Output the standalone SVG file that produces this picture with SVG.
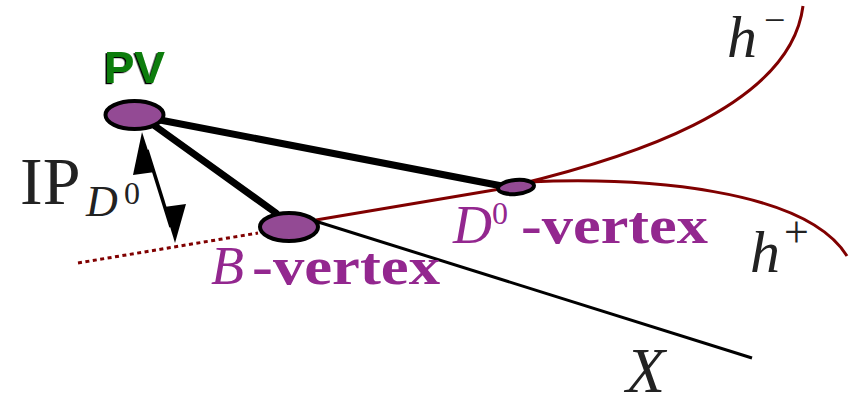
<svg xmlns="http://www.w3.org/2000/svg" width="856" height="407" viewBox="0 0 856 407">
<defs>
<style>
.vtx{fill:#934a94;stroke:#000;stroke-width:4}
.track{fill:none;stroke:#800000;stroke-width:3}
.flight{fill:none;stroke:#000;stroke-width:7;stroke-linecap:round}
.serif{font-family:"Liberation Serif","DejaVu Serif",serif}
.lbl{fill:#93278f}
.dark{fill:#222}
</style>
<filter id="sh" x="-20%" y="-20%" width="140%" height="140%">
<feDropShadow dx="-1.5" dy="1.2" stdDeviation="0.4" flood-color="#000"/>
</filter>
</defs>
<rect width="856" height="407" fill="#fff"/>
<g id="connectors">
<path class="track" d="M78 263 L258 233" stroke-dasharray="4 3.5"/>
<path class="track" d="M316 220 L500 189"/>
<path class="track" d="M516 185 C620 160 790 110 803 6"/>
<path class="track" d="M528 182 C640 177 805 188 847 256"/>
<path d="M315 221 L752 358" fill="none" stroke="#000" stroke-width="3"/>
<path class="flight" d="M160 120 L502 186"/>
<path class="flight" d="M155 126 L276 213"/>
<path d="M147 150 L171 227" fill="none" stroke="#000" stroke-width="3.5"/>
<path d="M142 132 L155 172 L133 175 z" fill="#000"/>
<path d="M175 243 L164 207 L186 204 z" fill="#000"/>
</g>
<g id="PV">
<ellipse class="vtx" cx="134.5" cy="115" rx="29" ry="14"/>
<text x="104" y="83" font-family="Liberation Sans,Arial,sans-serif" font-weight="bold" font-size="44" fill="#0a7d0a" filter="url(#sh)" textLength="61" lengthAdjust="spacingAndGlyphs">PV</text>
</g>
<g id="B-vertex">
<ellipse class="vtx" cx="289" cy="227" rx="29" ry="14"/>
<text class="serif lbl" y="284" font-size="52"><tspan x="211" font-style="italic" font-size="54">B</tspan><tspan x="252" font-weight="bold" textLength="188" lengthAdjust="spacingAndGlyphs">-vertex</tspan></text>
</g>
<g id="D0-vertex">
<ellipse class="vtx" cx="516" cy="187" rx="18" ry="7" transform="rotate(-5 516 187)" stroke-width="3.5"/>
<text class="serif lbl" font-size="52"><tspan x="453" y="243" font-style="italic" font-size="54">D</tspan><tspan x="492" y="224" font-size="32">0</tspan><tspan x="521" y="243" font-weight="bold" textLength="187" lengthAdjust="spacingAndGlyphs">-vertex</tspan></text>
</g>
<g id="IP">
<text class="serif dark" font-size="68"><tspan x="20" y="204">IP</tspan><tspan x="86" y="216" font-size="44" font-style="italic">D</tspan><tspan x="124" y="204" font-size="32">0</tspan></text>
</g>
<g id="h-minus">
<text class="serif dark" font-size="60"><tspan x="727" y="57" font-style="italic">h</tspan><tspan x="764" y="33" font-size="38">−</tspan></text>
</g>
<g id="h-plus">
<text class="serif dark" font-size="60"><tspan x="750" y="272" font-style="italic">h</tspan><tspan x="784" y="247" font-size="44">+</tspan></text>
</g>
<g id="X">
<text class="serif dark" x="626" y="392" font-size="64" font-style="italic">X</text>
</g>
</svg>
